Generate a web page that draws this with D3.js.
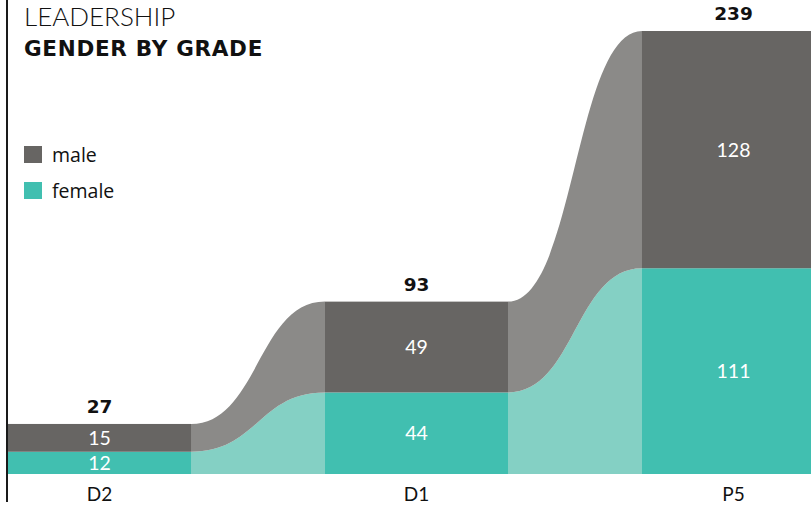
<!DOCTYPE html>
<html><head><meta charset="utf-8">
<script src="https://cdn.jsdelivr.net/npm/d3@7"></script>
<style>
body{margin:0;background:#fff}
svg{display:block;font-family:Lato,"Open Sans",sans-serif}
</style>
</head><body>
<svg id="chart" width="811" height="508"></svg>
<script>
// Leadership headcount by grade, split by gender
const grades = ["D2", "D1", "P5"];
const male = [15, 49, 128];
const female = [12, 44, 111];
const seriesKeys = ["female", "male"];           // stacking order, bottom first
const legendKeys = ["male", "female"];
const titleLines = ["LEADERSHIP", "GENDER BY GRADE"];

const barColor = {male: "#676563", female: "#41bfb0"};
const flowColor = {male: "#8b8a88", female: "#84d0c4"};
const boldFont = "'DejaVu Sans', Verdana, sans-serif";

const svg = d3.select("#chart");

const rows = grades.map((g, i) => ({grade: g, male: male[i], female: female[i]}));
const totals = rows.map(r => r.male + r.female);
const stacked = d3.stack().keys(seriesKeys)(rows);

const x = d3.scaleBand().domain(grades).range([8, 825]).paddingInner(0.4227).paddingOuter(0);
const y = d3.scaleLinear().domain([0, d3.max(totals)]).range([474, 31]);
const bw = x.bandwidth();

// smooth ribbons joining each segment to the same segment in the next grade
const flows = svg.append("g");
stacked.forEach(layer => {
  for (let i = 0; i < grades.length - 1; i++) {
    const a = layer[i], b = layer[i + 1];
    const x0 = x(grades[i]) + bw, x1 = x(grades[i + 1]), xm = (x0 + x1) / 2;
    const t0 = y(a[1]), t1 = y(b[1]), b0 = y(a[0]), b1 = y(b[0]);
    const p = d3.path();
    p.moveTo(x0, t0);
    p.bezierCurveTo(xm, t0, xm, t1, x1, t1);
    p.lineTo(x1, b1);
    p.bezierCurveTo(xm, b1, xm, b0, x0, b0);
    p.closePath();
    flows.append("path").attr("d", p.toString()).attr("fill", flowColor[layer.key]);
  }
});

// stacked bars with their values
const bars = svg.append("g");
stacked.forEach(layer => {
  bars.selectAll(null).data(layer).join("rect")
    .attr("x", d => x(d.data.grade))
    .attr("width", bw)
    .attr("y", d => y(d[1]))
    .attr("height", d => y(d[0]) - y(d[1]))
    .attr("fill", barColor[layer.key]);
  bars.selectAll(null).data(layer).join("text")
    .attr("x", d => x(d.data.grade) + bw / 2)
    .attr("y", d => (y(d[0]) + y(d[1])) / 2)
    .attr("dy", "0.36em")
    .attr("text-anchor", "middle")
    .attr("fill", "#fff")
    .attr("font-size", 19.5)
    .attr("font-weight", 400)
    .text(d => d.data[layer.key]);
});

// totals above bars
svg.append("g").selectAll("text").data(rows).join("text")
  .attr("x", d => x(d.grade) + bw / 2)
  .attr("y", (d, i) => y(totals[i]) - 11)
  .attr("text-anchor", "middle")
  .attr("font-family", boldFont)
  .attr("font-size", 18.5)
  .attr("font-weight", 700)
  .attr("fill", "#111")
  .text((d, i) => totals[i]);

// category axis
const xAxis = svg.append("g").attr("transform", `translate(0,${y(0)})`)
  .call(d3.axisBottom(x).tickSize(0).tickPadding(14));
xAxis.select(".domain").remove();
xAxis.selectAll("text").attr("font-size", 19).attr("font-family", "Lato, sans-serif").attr("fill", "#111");

// left rule
svg.append("line").attr("x1", 7).attr("x2", 7).attr("y1", 0).attr("y2", 502)
  .attr("stroke", "#1a1a1a").attr("stroke-width", 2);

// title
svg.append("text").attr("x", 24).attr("y", 26).attr("font-size", 26).attr("font-weight", 300)
  .attr("fill", "#111").text(titleLines[0]);
svg.append("text").attr("x", 24).attr("y", 56).attr("font-family", boldFont)
  .attr("font-size", 21.5).attr("font-weight", 700).attr("letter-spacing", 0.7)
  .attr("fill", "#111").text(titleLines[1]);

// legend
const lg = svg.append("g").selectAll("g").data(legendKeys).join("g")
  .attr("transform", (d, i) => `translate(24,${146 + i * 36})`);
lg.append("rect").attr("width", 18).attr("height", 17).attr("fill", d => barColor[d]);
lg.append("text").attr("x", 28).attr("y", 16).attr("font-family", "'Open Sans', sans-serif")
  .attr("font-size", 19.5).attr("fill", "#111").text(d => d);
</script>
</body></html>
